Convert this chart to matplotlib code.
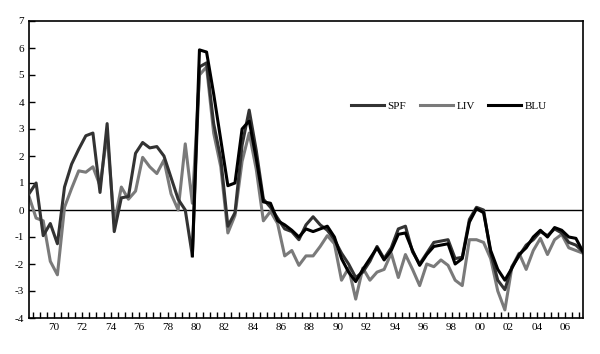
import numpy as np
import matplotlib.pyplot as plt
from matplotlib.ticker import MultipleLocator, FixedLocator

plt.rcParams['font.family'] = ['Liberation Serif', 'DejaVu Serif']
plt.rcParams['axes.unicode_minus'] = False

# semi-annual observations, 1968H1 .. 2007H1
nan = np.nan
years = 1968.25 + 0.5 * np.arange(79)

spf = [0.6, 1.0, -0.95, -0.5, -1.25, 0.85, 1.7, 2.25, 2.75, 2.85,
       0.65, 3.2, -0.8, 0.45, 0.5, 2.1, 2.5, 2.3, 2.35, 2.0,
       1.2, 0.4, 0.0, -1.7, 5.3, 5.45, 3.2, 1.9, -0.6, -0.1,
       2.4, 3.7, 2.2, 0.4, 0.1, -0.3, -0.7, -0.8, -1.1, -0.55,
       -0.25, -0.55, -0.75, -1.1, -1.6, -2.0, -2.5, -2.3, -1.9, -1.35,
       -1.8, -1.4, -0.7, -0.6, -1.55, -2.0, -1.6, -1.2, -1.15, -1.1,
       -1.8, -1.75, -0.35, 0.1, 0.0, -1.6, -2.6, -2.95, -2.1, -1.7,
       -1.3, -1.1, -0.8, -0.95, -0.7, -0.85, -1.2, -1.3, -1.55]

liv = [0.5, -0.3, -0.4, -1.9, -2.4, 0.1, 0.8, 1.45, 1.4, 1.6,
       0.9, 2.8, -0.5, 0.85, 0.4, 0.7, 1.95, 1.6, 1.35, 1.85,
       0.6, 0.0, 2.45, 0.25, 5.0, 5.3, 2.85, 1.6, -0.85, -0.2,
       1.8, 2.85, 1.5, -0.4, -0.05, -0.5, -1.7, -1.5, -2.05, -1.7,
       -1.7, -1.35, -0.95, -1.25, -2.6, -2.15, -3.3, -2.15, -2.6, -2.3,
       -2.2, -1.6, -2.5, -1.65, -2.2, -2.8, -2.0, -2.1, -1.85, -2.05,
       -2.6, -2.8, -1.1, -1.1, -1.2, -1.8, -3.0, -3.7, -2.1, -1.6,
       -2.2, -1.5, -1.05, -1.65, -1.1, -0.9, -1.4, -1.5, -1.6]

blu = [nan] * 23 + [
       -1.7, 5.93, 5.85, 4.3, 2.6, 0.9, 1.0,
       3.0, 3.3, 1.9, 0.3, 0.25, -0.4, -0.55, -0.75, -1.0, -0.7,
       -0.8, -0.7, -0.6, -1.0, -1.8, -2.3, -2.65, -2.2, -1.8, -1.4,
       -1.85, -1.5, -0.9, -0.85, -1.5, -2.05, -1.65, -1.35, -1.3, -1.25,
       -2.0, -1.8, -0.45, 0.05, -0.1, -1.5, -2.2, -2.6, -2.15, -1.65,
       -1.4, -1.0, -0.75, -1.0, -0.65, -0.75, -1.0, -1.05, -1.55]

label_years = np.arange(1970, 2007, 2)
tick_labels = ['%02d' % (y % 100) for y in label_years]

fig = plt.figure(figsize=(6.0, 3.54), dpi=100)
ax = fig.add_axes([29 / 600, 1 - 318 / 354, 554 / 600, 297 / 354])

ax.axhline(0, color='black', lw=1.0, zorder=1)
l2, = ax.plot(years, liv, color='#7a7a7a', lw=2.2, label='LIV', zorder=2)
l1, = ax.plot(years, spf, color='#333333', lw=2.2, label='SPF', zorder=3)
l3, = ax.plot(years, blu, color='#000000', lw=2.2, label='BLU', zorder=4)

ax.set_xlim(years[0], years[-1])
ax.set_ylim(-4, 7)
ax.yaxis.set_major_locator(MultipleLocator(1))
ax.xaxis.set_major_locator(FixedLocator(label_years))
ax.set_xticklabels(tick_labels)
ax.xaxis.set_minor_locator(MultipleLocator(0.5))
ax.tick_params(axis='both', which='both', direction='in', labelsize=8,
               color='black', width=1.0)
ax.tick_params(axis='both', which='major', length=4)
ax.tick_params(axis='x', which='minor', length=4)
ax.tick_params(top=False, right=False)
for s in ax.spines.values():
    s.set_linewidth(1.2)

ax.legend(handles=[l1, l2, l3], loc='center', ncol=3, frameon=False,
          bbox_to_anchor=(0.758, 0.714), fontsize=8, handlelength=3.0,
          columnspacing=1.2, handletextpad=0.3)

fig.savefig('out.png', dpi=100)
